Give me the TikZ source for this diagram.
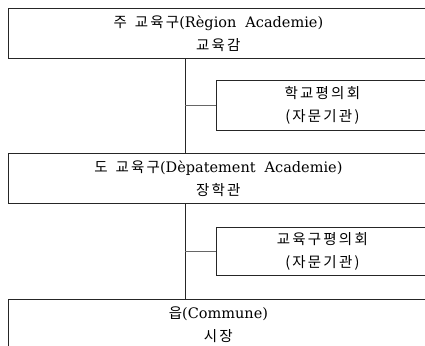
\documentclass[tikz,border=0pt]{standalone}
\usepackage{fontspec}
\setmainfont{DejaVu Serif}
\newfontfamily\kr[LetterSpace=15]{Noto Sans CJK KR}
\newcommand{\wsp}{\hspace{8pt}}
\newcommand{\lsp}{\hspace{9pt}}
\begin{document}
\begin{tikzpicture}[x=1pt,y=1pt,
  box/.style={draw=black!85, line width=0.8pt, rectangle, anchor=north west, align=center,
    font=\fontsize{14.5}{23}\selectfont, inner sep=0pt, minimum height=50pt},
  wide/.style={box, minimum width=420pt},
  side/.style={box, minimum width=212pt},
  link/.style={draw=black!85, line width=0.8pt},
  hlink/.style={draw=black!60, line width=1.2pt}]
\useasboundingbox (0,0) rectangle (425,-345);
\clip (0,0) rectangle (425,-345);
\node[wide] (r) at (8,-8) {{\kr 주\wsp 교육구}(Règion\lsp Academie)\\{\kr 교육감}};
\node[side, minimum height=50pt] (s1) at (216,-80) {{\kr 학교평의회}\\{\kr (자문기관)}};
\node[wide] (d) at (8,-153) {{\kr 도\wsp 교육구}(Dèpatement\lsp Academie)\\{\kr 장학관}};
\node[side, minimum height=48pt] (s2) at (216,-227) {{\kr 교육구평의회}\\{\kr (자문기관)}};
\node[wide] (c) at (8,-299) {{\kr 읍}(Commune)\\{\kr 시장}};
\coordinate (t) at (185,0);
\draw[link] (r.south -| t) -- (d.north -| t);
\draw[link] (d.south -| t) -- (c.north -| t);
\draw[hlink] (t |- s1.west) -- (s1.west);
\draw[hlink] (t |- s2.west) -- (s2.west);
\end{tikzpicture}
\end{document}
